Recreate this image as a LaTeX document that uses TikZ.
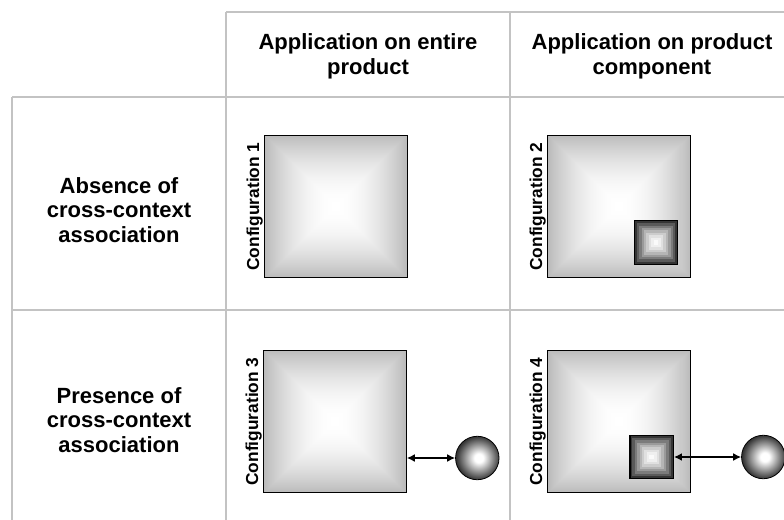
\documentclass[tikz,border=0pt]{standalone}
\usepackage{fontspec}
\setmainfont{Liberation Sans}
\usetikzlibrary{arrows.meta,calc}
\definecolor{gridgray}{HTML}{C3C3C3}
\definecolor{edgegray}{HTML}{BBBBBB}
\definecolor{darkedge}{HTML}{353535}
\definecolor{ballmid}{HTML}{9A9A9A}
\pgfdeclareradialshading{sph}{\pgfpoint{2bp}{0bp}}{color(0bp)=(white); color(5bp)=(white); color(15bp)=(ballmid); color(25bp)=(darkedge); color(50bp)=(darkedge)}
% concentric square bands: #1 edge colour, #2 number of steps, #3 exponent
\newcommand{\pyrbands}[3]{%
  \foreach \pyrk in {0,...,#2}{%
    \pgfmathsetmacro{\pyrfr}{1-\pyrk/(#2+1)}%
    \pgfmathsetmacro{\pyrpc}{100*(\pyrfr)^#3}%
    \fill[#1!\pyrpc!white]
      ($(path picture bounding box.center)!\pyrfr!(path picture bounding box.north west)$)
      rectangle
      ($(path picture bounding box.center)!\pyrfr!(path picture bounding box.south east)$);
  }}
\tikzset{
  gridline/.style={draw=gridgray, line width=1.5pt},
  hdr/.style={align=center, inner sep=0pt, font=\fontsize{16.5}{18.5}\selectfont\bfseries},
  cfg/.style={rotate=90, anchor=south, inner sep=0pt, font=\fontsize{13}{15}\selectfont\bfseries},
  bigsq/.style={draw=black, line width=0.7pt, minimum width=107pt, minimum height=107pt, inner sep=0pt, path picture={\pyrbands{edgegray}{70}{1.9}}},
  smallsq/.style={draw=black, line width=0.8pt, minimum size=32.6pt, inner sep=0pt, path picture={\pyrbands{darkedge}{8}{1.7}}},
  sphere/.style={circle, draw=black, line width=0.6pt, minimum size=32.6pt, inner sep=0pt, shading=sph},
  conn/.style={draw=black, line width=1.3pt, {Latex[length=6pt,width=6pt]}-{Latex[length=6pt,width=6pt]}}
}
\begin{document}
\begin{tikzpicture}[x=0.75pt, y=-0.75pt]
\useasboundingbox (0,0) rectangle (784,520);
% table grid
\draw[gridline] (226,11.7) -- (800,11.7);
\draw[gridline] (12,97) -- (800,97);
\draw[gridline] (12,310) -- (800,310);
\draw[gridline] (12,97) -- (12,530);
\draw[gridline] (226,11.7) -- (226,530);
\draw[gridline] (510,11.7) -- (510,530);
% headers
\node[hdr] (h1) at (368,56) {Application on entire\\product};
\node[hdr] (h2) at (652,56) {Application on product\\component};
\node[hdr] (r1) at (119,210) {Absence of\\cross-context\\association};
\node[hdr] (r2) at (119,420) {Presence of\\cross-context\\association};
% configuration 1
\node[bigsq] (s1) at (336,206.5) {};
\node[cfg] (l1) at (263,206.5) {Configuration 1};
% configuration 2
\node[bigsq] (s2) at (619.2,206.5) {};
\node[smallsq] (ss2) at (656,242.5) {};
\node[cfg] (l2) at (546,206.5) {Configuration 2};
% configuration 3
\node[bigsq] (s3) at (335,421.5) {};
\node[sphere] (c3) at (477.3,458) {};
\node[cfg] (l3) at (262,421.5) {Configuration 3};
\draw[conn] (s3.east |- c3.west) -- (c3.west);
% configuration 4
\node[bigsq] (s4) at (619.2,421.5) {};
\node[smallsq] (ss4) at (651.7,457) {};
\node[sphere] (c4) at (763.3,457) {};
\node[cfg] (l4) at (546,421.5) {Configuration 4};
\draw[conn] (ss4.east) -- (c4.west);
\end{tikzpicture}
\end{document}
